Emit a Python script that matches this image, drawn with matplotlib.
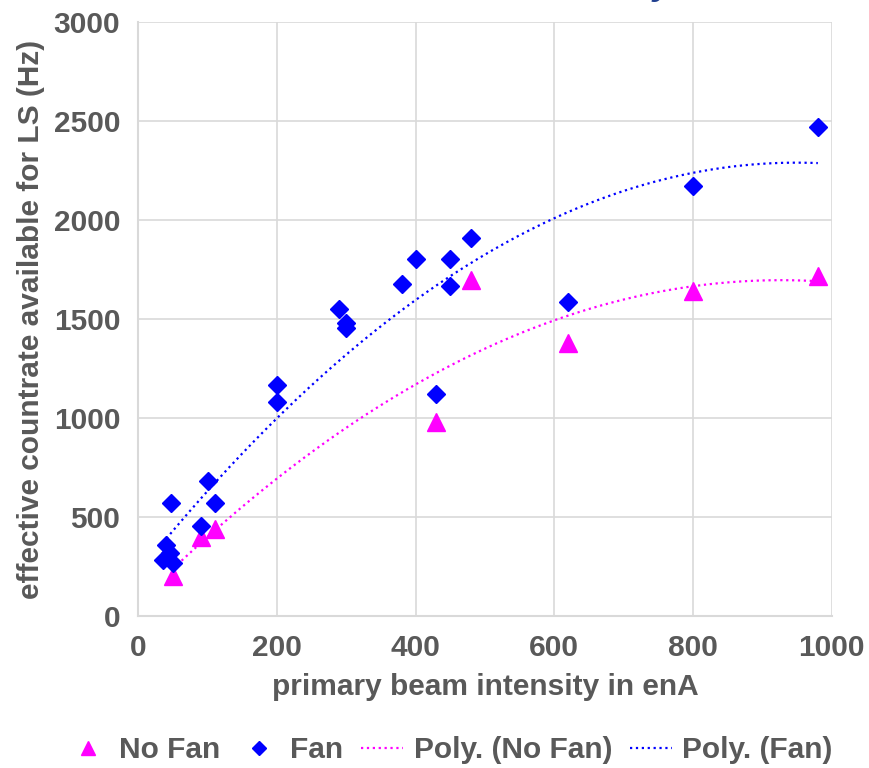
import numpy as np
import matplotlib.pyplot as plt

plt.rcParams['font.family'] = ['Liberation Sans', 'DejaVu Sans']
plt.rcParams['font.weight'] = 'bold'

# Data
fan_x = [35, 40, 45, 50, 47, 90, 100, 110, 200, 200, 290, 300, 300,
         380, 400, 430, 450, 450, 480, 620, 800, 980]
fan_y = [285, 360, 320, 265, 570, 455, 680, 570, 1165, 1080, 1550, 1480, 1455,
         1675, 1805, 1120, 1805, 1665, 1910, 1585, 2175, 2470]

nofan_x = [50, 90, 110, 430, 480, 620, 800, 980]
nofan_y = [200, 400, 440, 980, 1700, 1380, 1640, 1720]

grey = '#595959'
c_fan = '#0000FF'
c_nofan = '#FF00FF'
fs = 21.5

fig = plt.figure(figsize=(8.7, 7.68), dpi=100)
ax = fig.add_axes([0.159, 0.198, 0.797, 0.773])

# markers
ax.plot(nofan_x, nofan_y, linestyle='none', marker='^', ms=13.5,
        color=c_nofan, label='No Fan', zorder=3)
ax.plot(fan_x, fan_y, linestyle='none', marker='D', ms=9.5,
        color=c_fan, label='Fan', zorder=3)

# 2nd order polynomial trendlines (like Excel)
p_nofan = np.polyfit(nofan_x, nofan_y, 2)
xx = np.linspace(min(nofan_x), max(nofan_x), 200)
ax.plot(xx, np.polyval(p_nofan, xx), linestyle=':', lw=1.6,
        color=c_nofan, label='Poly. (No Fan)', zorder=2)

p_fan = np.polyfit(fan_x, fan_y, 2)
xx = np.linspace(min(fan_x), max(fan_x), 200)
ax.plot(xx, np.polyval(p_fan, xx), linestyle=':', lw=1.6,
        color=c_fan, label='Poly. (Fan)', zorder=2)

ax.set_xlim(0, 1000)
ax.set_ylim(0, 3000)
ax.set_xticks(range(0, 1001, 200))
ax.set_yticks(range(0, 3001, 500))
ax.grid(True, color='#D9D9D9', lw=1.2)
ax.set_axisbelow(True)
for s in ['top', 'right']:
    ax.spines[s].set_visible(False)
for s in ['left', 'bottom']:
    ax.spines[s].set_color('#D9D9D9')
    ax.spines[s].set_linewidth(1.5)
ax.tick_params(length=0, labelsize=fs, labelcolor=grey, pad=13)

ax.set_xlabel('primary beam intensity in enA', fontsize=fs, color=grey,
              fontweight='bold', labelpad=8)
ax.set_ylabel('effective countrate available for LS (Hz)', fontsize=fs,
              color=grey, fontweight='bold', labelpad=6)

leg = fig.legend(loc='center', bbox_to_anchor=(0.517, 0.023), ncol=4,
                 frameon=False, fontsize=fs, handlelength=1.4,
                 handletextpad=0.35, columnspacing=0.6, markerscale=0.75)
for t in leg.get_texts():
    t.set_color(grey)

# clipped title fragment at top edge (only the descender shows)
fig.text(0.750, 1.008, 'y', fontsize=26, color='#1F3F8F', style='italic',
         fontweight='bold', va='baseline')

fig.savefig('out.png', dpi=100)
